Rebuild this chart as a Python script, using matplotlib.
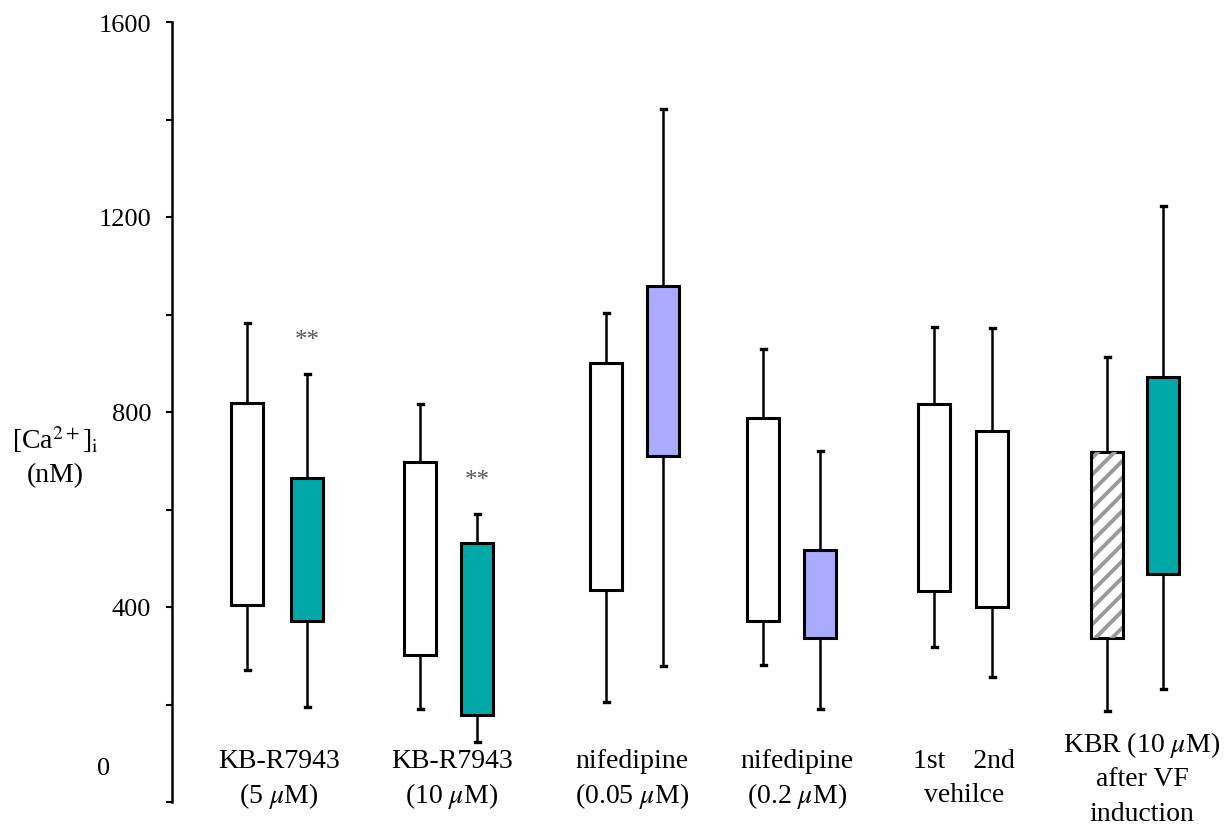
import matplotlib
matplotlib.use("Agg")
import matplotlib.pyplot as plt

plt.rcParams['font.family'] = ['Liberation Serif', 'DejaVu Serif']
plt.rcParams['mathtext.fontset'] = 'stix'
plt.rcParams['hatch.linewidth'] = 2.8

# ---- data (nM) ----
whisker_low = [271, 195, 191, 123, 205, 279, 281, 191, 318, 256, 187, 232]
box_low     = [404, 371, 302, 178, 435, 709, 371, 336, 433, 400, 336, 468]
box_high    = [818, 665, 697, 531, 900, 1058, 788, 517, 816, 761, 718, 872]
whisker_high= [982, 878, 816, 591, 1003, 1422, 930, 720, 975, 972, 913, 1223]
fills = ['white', '#00A8A8', 'white', '#00A8A8', 'white', '#AAAAFF',
         'white', '#AAAAFF', 'white', 'white', 'white', '#00A8A8']
hatched = [False]*10 + [True, False]

group_labels = ['KB-R7943\n(5 $\\mu$M)', 'KB-R7943\n(10 $\\mu$M)',
                'nifedipine\n(0.05 $\\mu$M)', 'nifedipine\n(0.2 $\\mu$M)',
                '1st    2nd\nvehilce', 'KBR (10 $\\mu$M)\nafter VF\ninduction']
star_boxes = [1, 3]
star_text = '**'

yticks_major = [400, 800, 1200, 1600]
yticks_minor = [0, 200, 600, 1000, 1400]

# ---- layout ----
W, H = 1230, 829
fig = plt.figure(figsize=(W/100, H/100), dpi=100)
ax_left, ax_top, ax_bot = 172, 23, 803
ax = fig.add_axes([ax_left/W, (H-ax_bot)/H, (W-ax_left)/W, (ax_bot-ax_top)/H])
ax.set_xlim(0, W-ax_left)
ax.set_ylim(0, 1600)

positions = [75, 135, 248, 305, 434, 491, 591, 648, 762, 820, 935, 991]
group_label_x = [279, 452, 632, 797, 964, 1142]          # pixel centres
group_line_y = [[762, 796], [762, 796], [762, 796], [762, 796],
                [762, 796], [745, 780, 815]]             # pixel line centres
box_w = 32

stats = []
for lo, q1, q3, hi in zip(whisker_low, box_low, box_high, whisker_high):
    stats.append(dict(whislo=lo, q1=q1, med=q1, q3=q3, whishi=hi))

bp = ax.bxp(stats, positions=positions, widths=box_w, patch_artist=True,
            showfliers=False, capwidths=5, manage_ticks=False,
            boxprops=dict(linewidth=2.2, edgecolor='black'),
            whiskerprops=dict(linewidth=1.8, color='black'),
            capprops=dict(linewidth=2.4, color='black'),
            medianprops=dict(linewidth=0))
for patch, fc in zip(bp['boxes'], fills):
    patch.set_facecolor(fc)
    patch.set_zorder(3)

# hatched overlay
for i, h in enumerate(hatched):
    if h:
        ax.bar(positions[i], box_high[i]-box_low[i], bottom=box_low[i], width=box_w-3,
               fill=False, hatch='//', edgecolor='#9a9a9a', linewidth=0, zorder=3.5)

# stars
for b in star_boxes:
    ax.text(positions[b], whisker_high[b] + 70, star_text, ha='center', va='center',
            fontsize=18, color='#555555')

# spines / ticks
for s in ['top', 'right', 'bottom']:
    ax.spines[s].set_visible(False)
ax.spines['left'].set_linewidth(1.8)
ax.set_xticks([])
ax.set_yticks(yticks_major)
ax.set_yticks(yticks_minor, minor=True)
ax.set_yticklabels([str(v) for v in yticks_major], fontsize=19)
ax.tick_params(axis='y', which='both', direction='out', length=4, width=1.5, pad=11)
ax.text(-62, 70, '0', ha='right', va='center', fontsize=19, clip_on=False)

# group labels (one text per line)
for cx, ys, lab in zip(group_label_x, group_line_y, group_labels):
    for y, line in zip(ys, lab.split('\n')):
        fig.text(cx/W, 1-y/H, line, ha='center', va='center', fontsize=20)

# y label
fig.text(55/W, 1-440/H, r'[Ca$^{2+}$]$_{\mathrm{i}}$', ha='center', va='center', fontsize=20)
fig.text(55/W, 1-476/H, '(nM)', ha='center', va='center', fontsize=20)

fig.savefig('out.png', dpi=100)
